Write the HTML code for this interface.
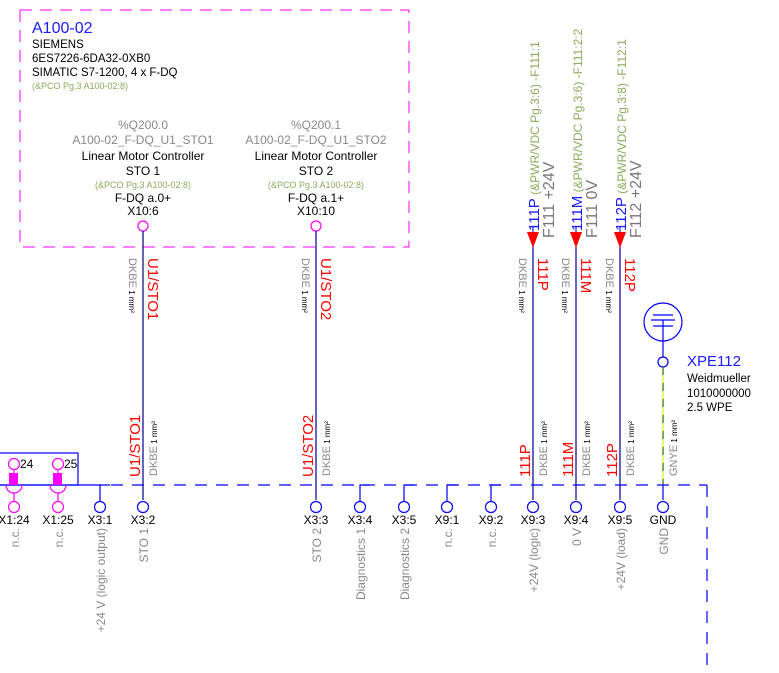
<!DOCTYPE html>
<html><head><meta charset="utf-8"><style>
html,body{margin:0;padding:0;background:#fff;}
svg{display:block;font-family:"Liberation Sans","DejaVu Sans",sans-serif;}
</style></head><body>
<svg width="779" height="673" viewBox="0 0 779 673" xmlns="http://www.w3.org/2000/svg">
<rect width="779" height="673" fill="#fff"/>
<rect x="20" y="10" width="389" height="237" fill="none" stroke="#f0f" stroke-width="1" stroke-dasharray="12,8"/>
<text x="32" y="33" font-size="16" fill="#1a1aff">A100-02</text>
<text x="32" y="48" font-size="11.5" fill="#000">SIEMENS</text>
<text x="32" y="62" font-size="11.5" fill="#000">6ES7226-6DA32-0XB0</text>
<text x="32" y="76" font-size="11.5" fill="#000">SIMATIC S7-1200,  4 x F-DQ</text>
<text x="32" y="89" font-size="9" fill="#8aaa5a">(&amp;PCO Pg.3 A100-02:8)</text>
<g text-anchor="middle">
<text x="143" y="129" font-size="12" fill="#888">%Q200.0</text>
<text x="143" y="144" font-size="12" fill="#888">A100-02_F-DQ_U1_STO1</text>
<text x="143" y="160" font-size="12" fill="#000">Linear Motor Controller</text>
<text x="143" y="175" font-size="12" fill="#000">STO 1</text>
<text x="143" y="188" font-size="9" fill="#8aaa5a">(&amp;PCO Pg.3 A100-02:8)</text>
<text x="143" y="202" font-size="12" fill="#000">F-DQ a.0+</text>
<text x="143" y="215" font-size="12" fill="#000">X10:6</text>
<text x="316" y="129" font-size="12" fill="#888">%Q200.1</text>
<text x="316" y="144" font-size="12" fill="#888">A100-02_F-DQ_U1_STO2</text>
<text x="316" y="160" font-size="12" fill="#000">Linear Motor Controller</text>
<text x="316" y="175" font-size="12" fill="#000">STO 2</text>
<text x="316" y="188" font-size="9" fill="#8aaa5a">(&amp;PCO Pg.3 A100-02:8)</text>
<text x="316" y="202" font-size="12" fill="#000">F-DQ a.1+</text>
<text x="316" y="215" font-size="12" fill="#000">X10:10</text>
</g>
<circle cx="143" cy="226" r="5" fill="none" stroke="#f0f" stroke-width="1.2"/>
<circle cx="316" cy="226" r="5" fill="none" stroke="#f0f" stroke-width="1.2"/>
<g stroke="#00008b" stroke-width="1.2">
<line x1="143" y1="231" x2="143" y2="500"/>
<line x1="316" y1="231" x2="316" y2="500"/>
<line x1="533" y1="245" x2="533" y2="500"/>
<line x1="576" y1="245" x2="576" y2="500"/>
<line x1="620" y1="245" x2="620" y2="500"/>
</g>
<g fill="#f00">
<polygon points="527,232 539,232 533,248"/>
<polygon points="570,232 582,232 576,248"/>
<polygon points="614,232 626,232 620,248"/>
</g>
<g stroke="#00f" stroke-width="1"><line x1="533" y1="226" x2="533" y2="232"/><line x1="576" y1="226" x2="576" y2="232"/><line x1="620" y1="226" x2="620" y2="232"/></g>
<g font-size="15">
<text transform="translate(539,231) rotate(-90)"><tspan fill="#1a1aff">111P</tspan><tspan fill="#8aaa5a" font-size="12"> (&amp;PWR/VDC Pg.3:6) -F111:1</tspan></text>
<text transform="translate(582,231) rotate(-90)"><tspan fill="#1a1aff">111M</tspan><tspan fill="#8aaa5a" font-size="12"> (&amp;PWR/VDC Pg.3:6) -F111:2:2</tspan></text>
<text transform="translate(626,231) rotate(-90)"><tspan fill="#1a1aff">112P</tspan><tspan fill="#8aaa5a" font-size="12"> (&amp;PWR/VDC Pg.3:8) -F112:1</tspan></text>
<text transform="translate(554,238) rotate(-90)" fill="#777" font-size="16">F111 +24V</text>
<text transform="translate(597,238) rotate(-90)" fill="#777" font-size="16">F111 0V</text>
<text transform="translate(641,238) rotate(-90)" fill="#777" font-size="16">F112 +24V</text>
</g>
<g font-size="15" fill="#f00">
<text transform="translate(148,258) rotate(90)">U1/STO1</text>
<text transform="translate(321,258) rotate(90)">U1/STO2</text>
<text transform="translate(538,258) rotate(90)">111P</text>
<text transform="translate(581,258) rotate(90)">111M</text>
<text transform="translate(625,258) rotate(90)">112P</text>
</g>
<g font-size="11" fill="#888">
<text transform="translate(129,258) rotate(90)">DKBE<tspan fill="#000" font-size="8"> 1 mm²</tspan></text>
<text transform="translate(302,258) rotate(90)">DKBE<tspan fill="#000" font-size="8"> 1 mm²</tspan></text>
<text transform="translate(519,258) rotate(90)">DKBE<tspan fill="#000" font-size="8"> 1 mm²</tspan></text>
<text transform="translate(562,258) rotate(90)">DKBE<tspan fill="#000" font-size="8"> 1 mm²</tspan></text>
<text transform="translate(606,258) rotate(90)">DKBE<tspan fill="#000" font-size="8"> 1 mm²</tspan></text>
</g>
<g font-size="15" fill="#f00">
<text transform="translate(140,477) rotate(-90)">U1/STO1</text>
<text transform="translate(313,477) rotate(-90)">U1/STO2</text>
<text transform="translate(530,477) rotate(-90)">111P</text>
<text transform="translate(573,477) rotate(-90)">111M</text>
<text transform="translate(617,477) rotate(-90)">112P</text>
</g>
<g font-size="11" fill="#888">
<text transform="translate(157,476) rotate(-90)">DKBE<tspan fill="#000" font-size="8"> 1 mm²</tspan></text>
<text transform="translate(330,476) rotate(-90)">DKBE<tspan fill="#000" font-size="8"> 1 mm²</tspan></text>
<text transform="translate(547,476) rotate(-90)">DKBE<tspan fill="#000" font-size="8"> 1 mm²</tspan></text>
<text transform="translate(590,476) rotate(-90)">DKBE<tspan fill="#000" font-size="8"> 1 mm²</tspan></text>
<text transform="translate(634,476) rotate(-90)">DKBE<tspan fill="#000" font-size="8"> 1 mm²</tspan></text>
<text transform="translate(677,476) rotate(-90)">GNYE<tspan fill="#000" font-size="8"> 1 mm²</tspan></text>
</g>
<circle cx="663" cy="322" r="19" fill="none" stroke="#00f" stroke-width="1.2"/>
<g stroke="#00f" stroke-width="1.2">
<line x1="653" y1="315" x2="673" y2="315"/><line x1="651" y1="320" x2="675" y2="320"/><line x1="653" y1="326" x2="673" y2="326"/>
<line x1="663" y1="320" x2="663" y2="357"/>
</g>
<circle cx="663" cy="362" r="5" fill="none" stroke="#00f" stroke-width="1.2"/>
<line x1="663" y1="367" x2="663" y2="485" stroke="#e8e800" stroke-width="1.2"/>
<line x1="663" y1="367" x2="663" y2="485" stroke="#1a7a1a" stroke-width="1.2" stroke-dasharray="8,8"/>
<line x1="663" y1="485" x2="663" y2="500" stroke="#00f" stroke-width="1.2"/>
<text x="687" y="366" font-size="15" fill="#1a1aff">XPE112</text>
<text x="687" y="382" font-size="11.5" fill="#000">Weidmueller</text>
<text x="687" y="397" font-size="11.5" fill="#000">1010000000</text>
<text x="687" y="411" font-size="11.5" fill="#000">2.5 WPE</text>
<line x1="0" y1="485" x2="90" y2="485" stroke="#00f" stroke-width="1.2"/>
<line x1="90" y1="485" x2="707" y2="485" stroke="#00f" stroke-width="1.2" stroke-dasharray="12,9"/>
<line x1="707" y1="485" x2="707" y2="673" stroke="#00f" stroke-width="1.2" stroke-dasharray="12,9"/>
<rect x="-1" y="453" width="79" height="32" fill="none" stroke="#00f" stroke-width="1.2"/>
<g stroke="#f0f" stroke-width="1.2" fill="none">
<circle cx="14" cy="464" r="5.5"/><circle cx="58" cy="464" r="5.5"/>
<line x1="14" y1="470" x2="14" y2="473"/><line x1="58" y1="470" x2="58" y2="473"/>
<path d="M6,485 A8,8 0 0 0 22,485"/><path d="M50,485 A8,8 0 0 0 66,485"/>
<line x1="14" y1="493" x2="14" y2="501"/><line x1="58" y1="493" x2="58" y2="501"/>
<circle cx="14" cy="507" r="5.5"/><circle cx="58" cy="507" r="5.5"/>
</g>
<rect x="9" y="473" width="9" height="12" fill="#f0f"/><rect x="53" y="473" width="9" height="12" fill="#f0f"/>
<text x="20" y="468" font-size="12" fill="#000">24</text>
<text x="64" y="468" font-size="12" fill="#000">25</text>
<g stroke="#00f" stroke-width="1.2" fill="none">
<polyline points="100,501 100,485 110,485"/>
<polyline points="360,501 360,485 370,485"/>
<polyline points="404,501 404,485 414,485"/>
<polyline points="447,501 447,485 457,485"/>
<polyline points="491,501 491,485 501,485"/>
</g>
<g stroke="#00f" stroke-width="1.2" fill="#fff">
<circle cx="100" cy="507" r="5.5"/><circle cx="143" cy="507" r="5.5"/><circle cx="316" cy="507" r="5.5"/>
<circle cx="360" cy="507" r="5.5"/><circle cx="404" cy="507" r="5.5"/><circle cx="447" cy="507" r="5.5"/>
<circle cx="491" cy="507" r="5.5"/><circle cx="533" cy="507" r="5.5"/><circle cx="576" cy="507" r="5.5"/>
<circle cx="620" cy="507" r="5.5"/><circle cx="663" cy="507" r="5.5"/>
</g>
<g font-size="12" fill="#000" text-anchor="middle">
<text x="14" y="524">X1:24</text><text x="58" y="524">X1:25</text><text x="100" y="524">X3:1</text>
<text x="143" y="524">X3:2</text><text x="316" y="524">X3:3</text><text x="360" y="524">X3:4</text>
<text x="404" y="524">X3:5</text><text x="447" y="524">X9:1</text><text x="491" y="524">X9:2</text>
<text x="533" y="524">X9:3</text><text x="576" y="524">X9:4</text><text x="620" y="524">X9:5</text>
<text x="663" y="524">GND</text>
</g>
<g font-size="12" fill="#888" text-anchor="end">
<text transform="translate(19,528) rotate(-90)">n.c.</text>
<text transform="translate(63,528) rotate(-90)">n.c.</text>
<text transform="translate(105,528) rotate(-90)">+24 V (logic output)</text>
<text transform="translate(148,528) rotate(-90)">STO 1</text>
<text transform="translate(321,528) rotate(-90)">STO 2</text>
<text transform="translate(365,528) rotate(-90)">Diagnostics 1</text>
<text transform="translate(409,528) rotate(-90)">Diagnostics 2</text>
<text transform="translate(452,528) rotate(-90)">n.c.</text>
<text transform="translate(496,528) rotate(-90)">n.c.</text>
<text transform="translate(538,528) rotate(-90)">+24V (logic)</text>
<text transform="translate(581,528) rotate(-90)">0 V</text>
<text transform="translate(625,528) rotate(-90)">+24V (load)</text>
<text transform="translate(668,528) rotate(-90)">GND</text>
</g>
</svg>
</body></html>
